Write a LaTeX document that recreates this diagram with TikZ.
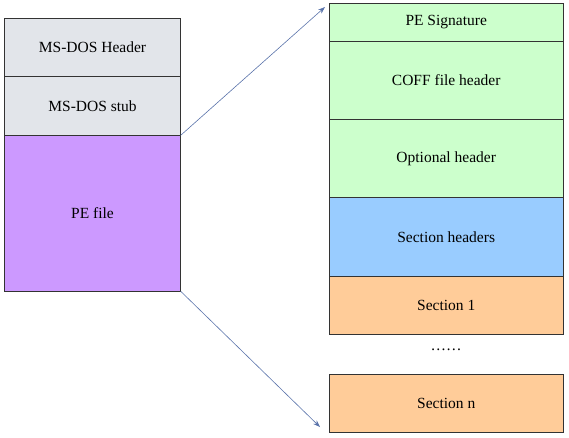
\documentclass[tikz,border=0pt]{standalone}
\usepackage{fontspec}
\setmainfont{LiberationSerif}[Extension=.ttf,UprightFont=*-Regular,BoldFont=*-Bold]
\usetikzlibrary{arrows.meta}
\definecolor{dosgray}{RGB}{226,229,234}
\definecolor{pepurple}{RGB}{204,153,255}
\definecolor{hdrgreen}{RGB}{204,255,204}
\definecolor{secblue}{RGB}{153,204,255}
\definecolor{secorange}{RGB}{255,204,153}
\definecolor{arrowblue}{RGB}{90,115,170}
\begin{document}
\begin{tikzpicture}[x=1pt,y=-1pt,
    box/.style={draw=black!80,line width=0.8pt,inner sep=0pt,outer sep=0pt,
      font=\rmfamily\fontsize{15.5}{18}\selectfont},
    leftbox/.style={box,minimum width=176.4pt},
    rightbox/.style={box,minimum width=234.5pt},
    link/.style={draw=arrowblue,line width=0.6pt,-{Stealth[length=7pt,width=5pt]}}]
    \useasboundingbox (0,0) rectangle (569,437);
    % left column
    \node[leftbox,fill=dosgray,minimum height=58.4pt] (doshdr) at (92.5,47.5) {MS-DOS Header};
    \node[leftbox,fill=dosgray,minimum height=58.6pt] (stub) at (92.5,106) {MS-DOS stub};
    \node[leftbox,fill=pepurple,minimum height=156pt] (pefile) at (92.5,213.3) {PE file};
    % right column
    \node[rightbox,fill=hdrgreen,minimum height=38.7pt] (sig) at (446.2,22.35) {PE Signature};
    \node[rightbox,fill=hdrgreen,minimum height=77.6pt] (coff) at (446.2,80.5) {COFF file header};
    \node[rightbox,fill=hdrgreen,minimum height=78.4pt] (opt) at (446.2,158.5) {Optional header};
    \node[rightbox,fill=secblue,minimum height=78.3pt] (sechdr) at (446.2,236.85) {Section headers};
    \node[rightbox,fill=secorange,minimum height=58pt] (sec1) at (446.2,305) {Section 1};
    \node[font=\rmfamily\fontsize{15.5}{18}\selectfont] (dots) at (446.2,350) {……};
    \node[rightbox,fill=secorange,minimum height=58pt] (secn) at (446.2,403) {Section n};
    % arrows
    \coordinate (hdrtip) at (325,7);
    \coordinate (sectip) at (320,427);
    \draw[link] (pefile.north east) -- (hdrtip);
    \draw[link] (pefile.south east) -- (sectip);
\end{tikzpicture}
\end{document}
